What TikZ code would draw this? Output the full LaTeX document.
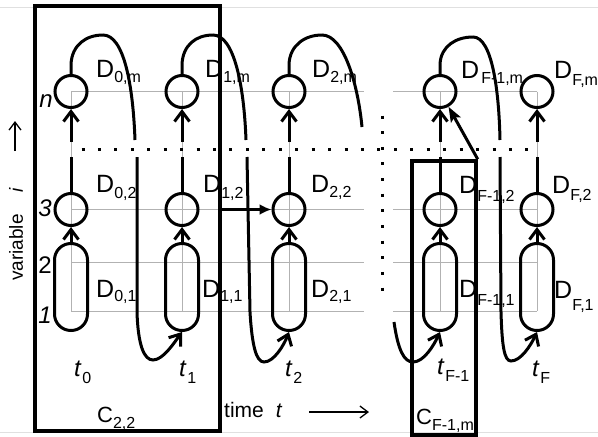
\documentclass[tikz,border=0pt]{standalone}
\usepackage{fontspec}
\setmainfont{Liberation Sans}
\usetikzlibrary{arrows.meta}
\newcommand{\mylabD}[2][5pt]{{\fontsize{25}{25}\selectfont D}\raisebox{-#1}{\fontsize{16}{16}\selectfont #2}}
\newcommand{\mylabT}[1]{{\fontsize{24}{24}\selectfont\itshape t}\kern1.5pt\raisebox{-7pt}{\fontsize{16}{16}\selectfont #1}}
\newcommand{\mylabC}[1]{{\fontsize{22}{22}\selectfont C}\raisebox{-6pt}{\fontsize{16}{16}\selectfont #1}}
\begin{document}
\begin{tikzpicture}[x=1pt,y=-1pt,
  grid/.style={draw=black!30,line width=1pt},
  faint/.style={draw=black!12,line width=1pt},
  circ/.style={circle,draw,line width=3pt,minimum size=32pt,inner sep=0pt},
  stad/.style={rectangle,draw,line width=3pt,rounded corners=16.4pt,minimum width=33pt,minimum height=87pt,inner sep=0pt},
  ln/.style={line width=3pt},
  arr/.style={line width=3pt,-{Straight Barb[length=10pt,width=15pt]}},
  boxarr/.style={line width=3pt,-{Latex[length=12pt,width=11pt]}},
  diagarr/.style={line width=3pt,-{Stealth[length=15pt,width=11pt,inset=3pt]}},
  thinarr/.style={line width=1.3pt,-{Straight Barb[length=8pt,width=12pt]}},
  cbox/.style={rectangle,draw,line width=3.5pt,inner sep=0pt},
  lab/.style={inner sep=0pt,anchor=base west},
  rowlab/.style={inner sep=0pt,anchor=base east,font=\fontsize{24}{24}\selectfont},
  hdots/.style={line width=3pt,dash pattern=on 3pt off 13.44pt},
  vdots/.style={line width=3pt,dash pattern=on 3pt off 12.64pt}]
\useasboundingbox (0,0) rectangle (598,437);
\fill[white] (0,0) rectangle (598,437);
% faint page lines
\draw[faint] (0,7.5) -- (598,7.5);
\draw[faint] (0,432) -- (598,432);
% grid
\foreach \y in {91.5,209.5,262,311} {
  \draw[grid] (71,\y) -- (364,\y);
  \draw[grid] (393,\y) -- (537,\y);
}
\foreach \x in {71,182,289,440,537} \draw[grid] (\x,91.5) -- (\x,311);
% dotted lines
\draw[hdots] (81.5,149) -- (528.5,149);
\draw[vdots] (382,115.5) -- (382,290.5);
% columns
\foreach \n/\x in {0/71,1/182,2/289,f/440,F/537} {
  \node[circ] (n\n) at (\x,91.5) {};
  \node[circ] (r\n) at (\x,209.5) {};
  \node[stad] (s\n) at (\x,287) {};
  \coordinate (gl\n) at (\x,157);
  \coordinate (gu\n) at (\x,142);
  \draw[arr] (s\n) -- (r\n);
  \draw[ln] (r\n) -- (gl\n);
  \draw[arr] (gu\n) -- (n\n);
}
% curves
\coordinate (e0) at (135,140);
\coordinate (b0) at (137,157);
\draw[ln] (n0.north) -- (71,64) .. controls (72,45) and (86,35) .. (103,35) .. controls (124,35) and (133,85) .. (e0);
\draw[arr] (b0) -- (137,312) .. controls (138,345) and (144,360) .. (153,360) .. controls (163,360) and (174,343) .. (s1.south);
\coordinate (e1) at (246,140);
\coordinate (b1) at (247,157);
\draw[ln] (n1.north) -- (182,64) .. controls (183,45) and (196,35) .. (213,35) .. controls (234,35) and (244,85) .. (e1);
\draw[arr] (b1) -- (250,312) .. controls (252,345) and (256,362) .. (264,362) .. controls (274,362) and (284,345) .. (s2.south);
\coordinate (e2) at (362,127);
\draw[ln] (n2.north) -- (289,64) .. controls (290,45) and (305,35) .. (322,35) .. controls (344,35) and (358,85) .. (e2);
\coordinate (bx) at (394,322);
\draw[arr] (bx) .. controls (398,350) and (404,362) .. (413,362) .. controls (424,362) and (434,345) .. (sf.south);
\coordinate (ef) at (500,140);
\coordinate (bf) at (500,157);
\draw[ln] (nf.north) -- (440,64) .. controls (441,46) and (456,37) .. (473,37) .. controls (492,37) and (499,90) .. (ef);
\draw[arr] (bf) -- (501,312) .. controls (502,345) and (504,361) .. (511,361) .. controls (521,361) and (531,345) .. (sF.south);
% boxes
\node[cbox,minimum width=185pt,minimum height=425pt] (b22) at (127.5,218.5) {};
\node[cbox,minimum width=64pt,minimum height=274pt] (bF) at (444,298) {};
\draw[boxarr] (b22.east |- r2) -- (r2);
\draw[diagarr] (bF.north east) -- (nf);
% D labels
\node[lab] (d0m) at (96,77) {\mylabD{0,m}};
\node[lab] (d1m) at (205,77) {\mylabD{1,m}};
\node[lab] (d2m) at (312,77) {\mylabD{2,m}};
\node[lab] (dfm) at (461,78) {\mylabD{\hspace{2pt}F-1,m}};
\node[lab] (dFm) at (554,78) {\mylabD[7pt]{F,m}};
\node[lab] (d02) at (96,192) {\mylabD[6pt]{0,2}};
\node[lab] (d12) at (203,192) {\mylabD[6pt]{1,2}};
\node[lab] (d22) at (311,192) {\mylabD[5pt]{2,2}};
\node[lab] (df2) at (459,193) {\mylabD[8pt]{F-1,2}};
\node[lab] (dF2) at (552,193) {\mylabD[7pt]{F,2}};
\node[lab] (d01) at (96,297) {\mylabD[4pt]{0,1}};
\node[lab] (d11) at (202,297) {\mylabD[4pt]{1,1}};
\node[lab] (d21) at (311,297) {\mylabD[4pt]{2,1}};
\node[lab] (df1) at (459,297) {\mylabD[8pt]{F-1,1}};
\node[lab] (dF1) at (554,298) {\mylabD[12pt]{F,1}};
% row labels
\node[rowlab] (rn) at (53,107) {\itshape n};
\node[rowlab] (r3l) at (52,216) {\itshape 3};
\node[rowlab] (r2l) at (52,273) {2};
\node[rowlab] (r1l) at (52,323) {\itshape 1};
% t labels
\node[lab] (t0) at (74,376) {\mylabT{0}};
\node[lab] (t1) at (179,376) {\mylabT{1}};
\node[lab] (t2) at (285,376) {\mylabT{2}};
\node[lab] (tf) at (437,374) {\mylabT{F-1}};
\node[lab] (tF) at (532,376) {\mylabT{F}};
% C labels
\node[lab] (c22) at (97,422) {\mylabC{2,2}};
\node[lab] (cfm) at (416,424) {\mylabC{F-1,m}};
% axis labels
\node[lab] (tm) at (224,417) {\fontsize{21}{21}\selectfont time\hspace{12pt}\textit{t}};
\coordinate (ta0) at (309,412);
\coordinate (ta1) at (369,412);
\draw[thinarr] (ta0) -- (ta1);
\node[lab,rotate=90] (vl) at (23,281) {\fontsize{19}{19}\selectfont variable\hspace{22pt}\textit{i}};
\coordinate (va0) at (15,151);
\coordinate (va1) at (15,121);
\draw[thinarr] (va0) -- (va1);
\end{tikzpicture}
\end{document}
